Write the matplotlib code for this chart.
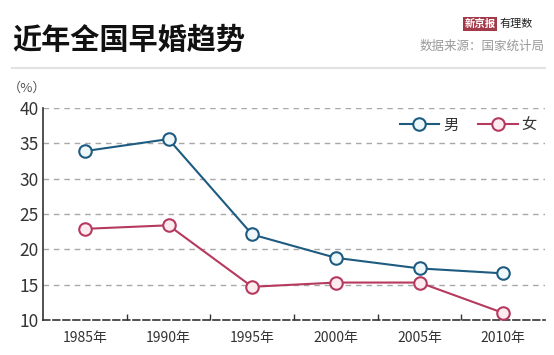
import matplotlib
matplotlib.use("Agg")
import matplotlib.pyplot as plt
from matplotlib.lines import Line2D

plt.rcParams['font.family'] = ['Noto Sans CJK SC', 'DejaVu Sans']

years = ['1985年', '1990年', '1995年', '2000年', '2005年', '2010年']
male = [33.9, 35.6, 22.1, 18.8, 17.3, 16.6]
female = [22.9, 23.4, 14.7, 15.3, 15.3, 11.0]
yticks = [10, 15, 20, 25, 30, 35, 40]

male_c = '#1e5b80'
female_c = '#b53a5e'

fig = plt.figure(figsize=(5.54, 3.55), dpi=100)
fig.patch.set_facecolor('white')

ax = fig.add_axes([43/554, 1-320/355, (545-43)/554, (320-108)/355])
x = list(range(len(years)))

for y in yticks[1:]:
    ax.axhline(y, color='#a8a8a8', lw=1.0, ls=(0, (4, 3.5)), zorder=1)

ax.plot(x, male, color=male_c, lw=1.5, marker='o', ms=9, mfc='#eef8fa',
        mec=male_c, mew=1.5, zorder=3)
ax.plot(x, female, color=female_c, lw=1.5, marker='o', ms=9, mfc='#fcecf0',
        mec=female_c, mew=1.5, zorder=3)

ax.set_xlim(-0.5, 5.5)
ax.set_ylim(10, 40)
ax.set_yticks(yticks)
ax.set_yticklabels([str(v) for v in yticks], fontsize=12.5, color='#333333', fontweight='light')
ax.set_xticks(x)
ax.set_xticklabels(years, fontsize=10, color='#333333', fontweight='light')
ax.tick_params(axis='x', length=0, pad=8)
ax.tick_params(axis='y', length=0, pad=3)
ax.set_xticks([i + 0.5 for i in range(len(years) - 1)], minor=True)
ax.tick_params(axis='x', which='minor', direction='in', length=4, width=1, color='#333333')

for s in ['top', 'right']:
    ax.spines[s].set_visible(False)
ax.spines['left'].set_color('#333333')
ax.spines['left'].set_linewidth(1.2)
ax.spines['bottom'].set_color('#333333')
ax.spines['bottom'].set_linewidth(1.2)
ax.spines['bottom'].set_linestyle((0, (4, 2)))

handles = [Line2D([], [], color=male_c, lw=1.5, marker='o', ms=9, mfc='#eef8fa', mec=male_c, mew=1.5),
           Line2D([], [], color=female_c, lw=1.5, marker='o', ms=9, mfc='#fcecf0', mec=female_c, mew=1.5)]
ax.legend(handles, ['男', '女'], loc='center right', bbox_to_anchor=(0.984, 0.92), ncol=2,
          frameon=False, fontsize=11, handlelength=2.6, columnspacing=1.3, handletextpad=0.25,
          labelcolor='#333333', borderaxespad=0, borderpad=0)

# Title and header
fig.text(12/554, 1-40/355, '近年全国早婚趋势', fontsize=21, fontweight='bold', color='#111111',
         va='center', ha='left')
fig.text(480/554, 1-24/355, '新京报', fontsize=7.5, fontweight='bold', color='white',
         va='center', ha='center',
         bbox=dict(boxstyle='square,pad=0.15', fc='#a33a4a', ec='none'))
fig.text(499/554, 1-24/355, '有理数', fontsize=8, style='italic', color='#222222',
         va='center', ha='left')
fig.text(545/554, 1-46/355, '数据来源：国家统计局', fontsize=9, color='#999999',
         va='center', ha='right')
fig.add_artist(Line2D([12/554, 545/554], [1-68/355, 1-68/355], color='#e2e2e2', lw=1.5))
fig.text(8/554, 1-88/355, '（%）', fontsize=9.5, color='#555555', va='center', ha='left')

fig.savefig('out.png', dpi=100, facecolor='white')
